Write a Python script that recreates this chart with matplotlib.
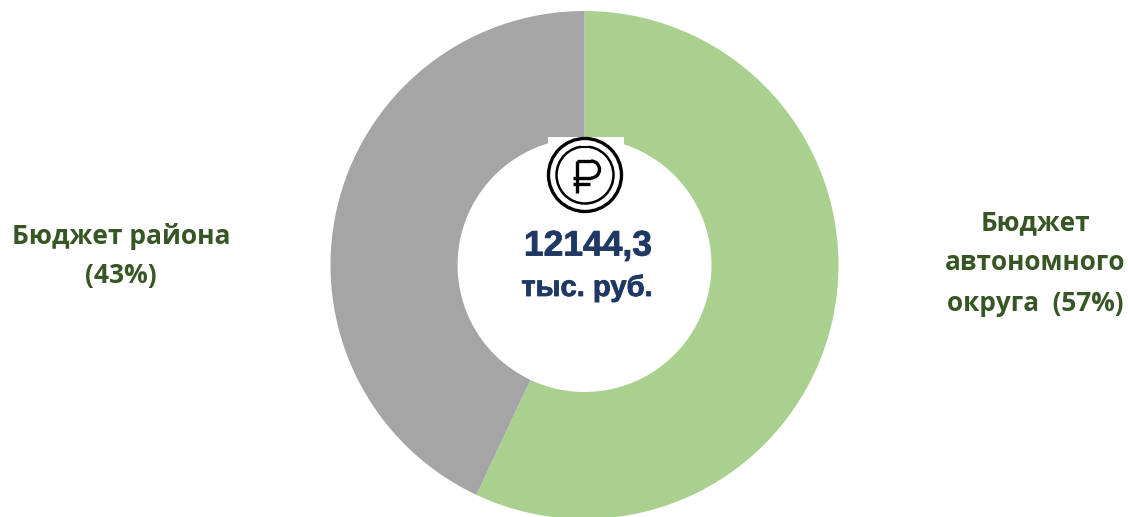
import matplotlib
matplotlib.use("Agg")
import matplotlib.pyplot as plt
import matplotlib.patheffects as pe
from matplotlib.patches import Circle, Rectangle, Arc

labels = ["Бюджет\nавтономного\nокруга  (57%)", "Бюджет района\n(43%)"]
values = [57, 43]
colors = ["#A9D08E", "#A5A5A5"]
total_lines = ["12144,3", "тыс. руб."]

W, H = 1128, 517
fig = plt.figure(figsize=(W/100, H/100), dpi=100)
ax = fig.add_axes([0, 0, 1, 1])

cx, cy, R = 584.5, 265, 254
# y axis is inverted, so a data-counterclockwise pie runs clockwise on screen from the top
ax.pie(values, colors=colors, startangle=-90, counterclock=True, center=(cx, cy), radius=R,
       wedgeprops=dict(width=R-127, linewidth=0), frame=True)
ax.set_xlim(0, W); ax.set_ylim(H, 0); ax.set_aspect("auto"); ax.axis("off")

green = "#375623"; navy = "#1F3864"
font = "Open Sans"
ax.text(121, 256, labels[1], ha="center", va="center", fontsize=19, fontweight="bold", color=green, family=font, linespacing=1.58)
ax.text(1035, 263, labels[0], ha="center", va="center", fontsize=18.8, fontweight="bold", color=green, family=font, linespacing=1.65)

# rouble badge
ax.add_patch(Rectangle((548, 137), 76, 12, fc="white", ec="none", zorder=3))
ax.add_patch(Circle((585, 175), 36.5, fc="white", ec="black", lw=2.4, zorder=4))
ax.add_patch(Circle((585, 175), 28.5, fc="none", ec="black", lw=1.8, zorder=4))
ax.add_patch(Rectangle((581, 144), 8, 5, fc="white", ec="none", zorder=4.5))
ax.plot([582, 583.5], [146.5, 146.5], color="black", lw=1.5, zorder=5)
ax.plot([586, 587.5], [146.5, 146.5], color="black", lw=1.5, zorder=5)
lw = 2.4
ax.plot([577, 577], [161, 193], color="black", lw=lw, zorder=5, solid_capstyle="butt")
ax.plot([577, 591], [161, 161], color="black", lw=lw, zorder=5, solid_capstyle="butt")
ax.plot([573, 591], [178, 178], color="black", lw=lw, zorder=5, solid_capstyle="butt")
ax.plot([573, 590], [184, 184], color="black", lw=lw, zorder=5, solid_capstyle="butt")
ax.add_patch(Arc((591, 169.5), 17, 17, theta1=-90, theta2=90, color="black", lw=lw, zorder=5))

stroke = [pe.withStroke(linewidth=0.6, foreground=navy)]
ax.text(588, 246, total_lines[0], ha="center", va="center", fontsize=25.5, fontweight="bold", color=navy, family="Liberation Sans", path_effects=stroke)
ax.text(587, 288, total_lines[1], ha="center", va="center", fontsize=21, fontweight="bold", color=navy, family="Liberation Sans", path_effects=stroke)

fig.savefig("out.png", dpi=100)
